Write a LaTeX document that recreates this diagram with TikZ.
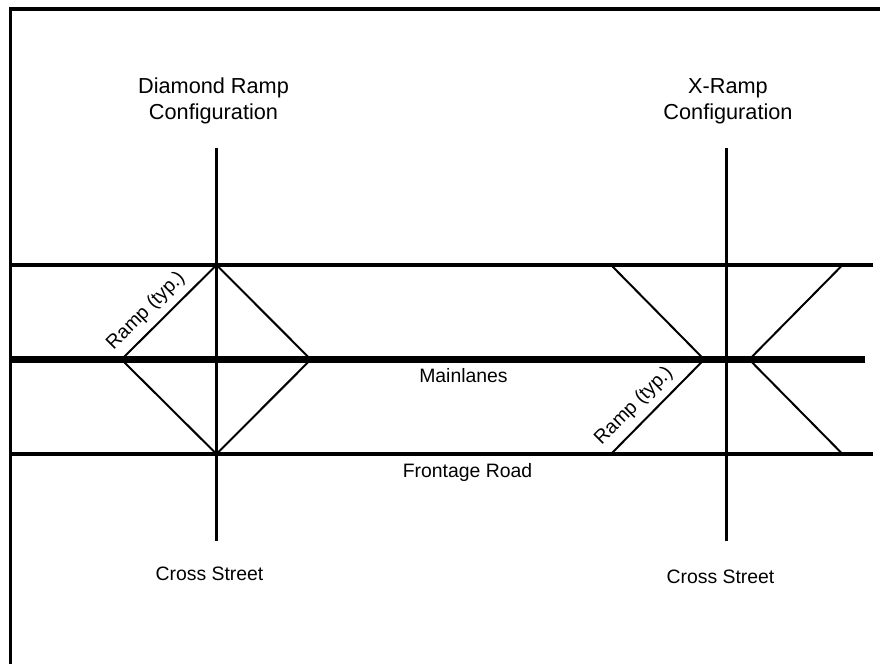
\documentclass[tikz,border=0pt]{standalone}
\usepackage{fontspec}
\setmainfont{Liberation Sans}
\usetikzlibrary{calc}
\tikzset{
    road/.style={draw=black,line width=3.2pt},
    mainlane/.style={draw=black,line width=7.4pt},
    ramp/.style={draw=black,line width=2pt},
    lbl/.style={font=\fontsize{19.4}{26}\selectfont,inner sep=0pt,align=center},
    title/.style={font=\fontsize{21.7}{26}\selectfont,inner sep=0pt,align=center}
}

\begin{document}
\begin{tikzpicture}[x=1pt,y=-1pt]
    \useasboundingbox (0,0) rectangle (880,664);
    \fill[white] (0,0) rectangle (880,664);

    % frame
    \coordinate (framebl) at (10.5,664);
    \coordinate (frametl) at (10.5,9);
    \coordinate (frametr) at (880,9);
    \draw[road] (framebl) -- (frametl) -- (frametr);

    % roads
    \coordinate (upperw) at (10,265);
    \coordinate (uppere) at (873,265);
    \coordinate (mainw) at (10,359.6);
    \coordinate (maine) at (865,359.6);
    \coordinate (lowerw) at (10,454);
    \coordinate (lowere) at (873,454);
    \draw[road] (upperw) -- (uppere);
    \draw[road] (lowerw) -- (lowere);
    \draw[mainlane] (mainw) -- (maine);

    % cross streets
    \foreach \name/\x in {diamond/216.5,xramp/726.7} {
        \coordinate (\name top) at (\x,148);
        \coordinate (\name bot) at (\x,541);
        \draw[road] (\name top) -- (\name bot);
    }

    % diamond ramps
    \coordinate (dn) at (216.5,265);
    \coordinate (ds) at (216.5,454);
    \foreach \name/\x in {dw/124,de/308.3} {
        \coordinate (\name up) at (\x,357);
        \coordinate (\name low) at (\x,362);
        \draw[ramp] (dn) -- (\name up);
        \draw[ramp] (ds) -- (\name low);
    }

    % x ramps
    \foreach \name/\xa/\xb in {xw/611/701.7,xe/842.5/751.7} {
        \coordinate (\name n) at (\xa,265);
        \coordinate (\name s) at (\xa,454);
        \coordinate (\name up) at (\xb,357);
        \coordinate (\name low) at (\xb,362);
        \draw[ramp] (\name n) -- (\name up);
        \draw[ramp] (\name s) -- (\name low);
    }

    % labels
    \node[title] (diamondlabel) at (213.5,101) {Diamond Ramp\\Configuration};
    \node[title] (xramplabel) at (728,101) {X-Ramp\\Configuration};
    \node[lbl,rotate=45] (rampleft) at (146,311) {Ramp (typ.)};
    \node[lbl,rotate=45] (rampright) at (634,406) {Ramp (typ.)};
    \node[lbl] (mainlabel) at (463.5,376) {Mainlanes};
    \node[lbl] (frontagelabel) at (467.5,472.5) {Frontage Road};
    \node[lbl] (crossleft) at (209.5,574) {Cross Street};
    \node[lbl] (crossright) at (720.5,576.5) {Cross Street};
\end{tikzpicture}
\end{document}
